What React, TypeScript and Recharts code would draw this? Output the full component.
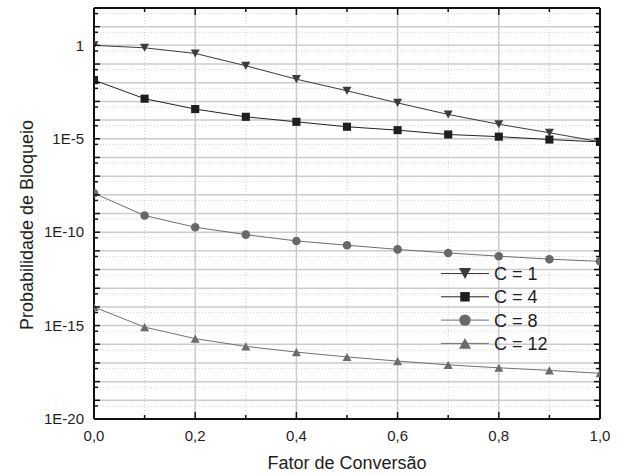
import React from 'react';
import { LineChart, Line, XAxis, YAxis, CartesianGrid } from 'recharts';

// ---- data ----
const conversionFactor = [0, 0.1, 0.2, 0.3, 0.4, 0.5, 0.6, 0.7, 0.8, 0.9, 1.0];
const blockingC1 = [1.0, 0.74, 0.37, 0.081, 0.0155, 3.7e-3, 8.3e-4, 2.0e-4, 6.0e-5, 2.1e-5, 6.9e-6];
const blockingC4 = [0.0138, 1.4e-3, 3.9e-4, 1.5e-4, 8.1e-5, 4.4e-5, 2.9e-5, 1.7e-5, 1.3e-5, 9.1e-6, 6.8e-6];
const blockingC8 = [1.2e-8, 7.8e-10, 1.85e-10, 7.4e-11, 3.4e-11, 2.0e-11, 1.2e-11, 7.7e-12, 5.2e-12, 3.6e-12, 2.75e-12];
const blockingC12 = [9.8e-15, 8.3e-16, 2.0e-16, 7.7e-17, 3.8e-17, 2.1e-17, 1.26e-17, 7.9e-18, 5.5e-18, 4.0e-18, 2.8e-18];

const seriesNames = ['C = 1', 'C = 4', 'C = 8', 'C = 12'];

const xTicks = [0, 0.1, 0.2, 0.3, 0.4, 0.5, 0.6, 0.7, 0.8, 0.9, 1.0];
const xLabelTicks = [0, 0.2, 0.4, 0.6, 0.8, 1.0];
const xMajorGrid = [0.2, 0.4, 0.6, 0.8];
const xMinorGrid = [0.1, 0.3, 0.5, 0.7, 0.9];

const yLabelValues = [1, 1e-5, 1e-10, 1e-15, 1e-20];
const yLabelTexts = ['1', '1E-5', '1E-10', '1E-15', '1E-20'];
const yDecades = Array.from({ length: 23 }, (_, i) => Number(`1e${i - 20}`));
const yHalves = Array.from({ length: 22 }, (_, i) => Number(`5e${i - 20}`));
const yTicks = [...yDecades, ...yHalves].sort((a, b) => a - b);

const xTitle = 'Fator de Conversão';
const yTitle = 'Probabilidade de Bloqueio';

const data = conversionFactor.map((x, i) => ({
  x,
  c1: blockingC1[i],
  c4: blockingC4[i],
  c8: blockingC8[i],
  c12: blockingC12[i],
}));

// ---- styles ----
const FONT = '"Liberation Sans", Arial, sans-serif';
const TEXT = '#1e1e1e';
const AXIS = '#111';

const isDecade = (v: number) => {
  const e = Math.log10(v);
  return Math.abs(e - Math.round(e)) < 1e-6;
};
const isXMajor = (v: number) => Math.abs(v * 5 - Math.round(v * 5)) < 1e-6;

const LeftTick = (props: any) => {
  const { x, y, payload } = props;
  const v = payload.value;
  const major = isDecade(v);
  const idx = yLabelValues.findIndex((l) => Math.abs(Math.log10(l) - Math.log10(v)) < 1e-6);
  return (
    <g>
      <line x1={x} x2={x + (major ? 6 : 4)} y1={y} y2={y} stroke={AXIS} strokeWidth={1.5} />
      {idx >= 0 && (
        <text x={x - 10} y={y + 5.3} textAnchor="end" fontSize={15} fontFamily={FONT} fill={TEXT}>
          {yLabelTexts[idx]}
        </text>
      )}
    </g>
  );
};

const RightTick = (props: any) => {
  const { x, y, payload } = props;
  const major = isDecade(payload.value);
  return <line x1={x} x2={x - (major ? 6 : 4)} y1={y} y2={y} stroke={AXIS} strokeWidth={1.5} />;
};

const BottomTick = (props: any) => {
  const { x, y, payload } = props;
  const v = payload.value;
  const major = isXMajor(v);
  const labelled = xLabelTicks.some((t) => Math.abs(t - v) < 1e-6);
  return (
    <g>
      <line x1={x} x2={x} y1={y} y2={y - (major ? 7 : 4)} stroke={AXIS} strokeWidth={1.5} />
      {labelled && (
        <text x={x} y={y + 22} textAnchor="middle" fontSize={15} fontFamily={FONT} fill={TEXT}>
          {v.toFixed(1).replace('.', ',')}
        </text>
      )}
    </g>
  );
};

const TopTick = (props: any) => {
  const { x, y, payload } = props;
  const major = isXMajor(payload.value);
  return <line x1={x} x2={x} y1={y} y2={y + (major ? 7 : 4)} stroke={AXIS} strokeWidth={1.5} />;
};

// ---- markers ----
type Shape = 'down' | 'square' | 'circle' | 'up';
const drawMarker = (shape: Shape, cx: number, cy: number, s: number, fill: string, key?: any) => {
  const h = s / 2;
  if (shape === 'down')
    return <polygon key={key} points={`${cx - h},${cy - h * 0.9} ${cx + h},${cy - h * 0.9} ${cx},${cy + h * 0.9}`} fill={fill} />;
  if (shape === 'up')
    return <polygon key={key} points={`${cx - h},${cy + h * 0.9} ${cx + h},${cy + h * 0.9} ${cx},${cy - h * 0.9}`} fill={fill} />;
  if (shape === 'square')
    return <rect key={key} x={cx - h * 0.9} y={cy - h * 0.9} width={s * 0.9} height={s * 0.9} fill={fill} />;
  return <circle key={key} cx={cx} cy={cy} r={h * 0.95} fill={fill} />;
};

const series = [
  { key: 'c1', shape: 'down' as Shape, line: '#3a3a3a', fill: '#3c3c3c' },
  { key: 'c4', shape: 'square' as Shape, line: '#222222', fill: '#1e1e1e' },
  { key: 'c8', shape: 'circle' as Shape, line: '#6e6e6e', fill: '#686868' },
  { key: 'c12', shape: 'up' as Shape, line: '#707070', fill: '#6c6c6c' },
];

const dotRenderer = (shape: Shape, fill: string) => (p: any) =>
  drawMarker(shape, p.cx, p.cy, 9, fill, `${shape}-${p.index}`);

export default function App() {
  return (
    <div style={{ position: 'absolute', left: 0, top: 0, width: 618, height: 475, background: '#fff' }}>
      <LineChart
        width={618}
        height={475}
        data={data}
        margin={{ top: 0, right: 0, bottom: 0, left: 0 }}
      >
        <CartesianGrid
          horizontalValues={yHalves}
          verticalValues={xMinorGrid}
          stroke="#d4d4d4"
          strokeWidth={1}
          strokeDasharray="1 2"
        />
        <CartesianGrid
          horizontalValues={yDecades}
          verticalValues={xMajorGrid}
          stroke="#cbcbcb"
          strokeWidth={1.5}
        />
        <XAxis
          dataKey="x"
          type="number"
          domain={[0, 1]}
          ticks={xTicks}
          allowDataOverflow
          height={56}
          tickSize={0}
          tickMargin={0}
          tickLine={false}
          tick={BottomTick}
          axisLine={{ stroke: AXIS, strokeWidth: 2 }}
          interval={0}
        />
        <XAxis
          xAxisId="top"
          orientation="top"
          dataKey="x"
          type="number"
          domain={[0, 1]}
          ticks={xTicks}
          allowDataOverflow
          height={8}
          tickSize={0}
          tickMargin={0}
          tickLine={false}
          tick={TopTick}
          axisLine={{ stroke: AXIS, strokeWidth: 2 }}
          interval={0}
        />
        <YAxis
          type="number"
          scale="log"
          domain={[1e-20, 100]}
          ticks={yTicks}
          allowDataOverflow
          width={94}
          tickSize={0}
          tickMargin={0}
          tickLine={false}
          tick={LeftTick}
          axisLine={{ stroke: AXIS, strokeWidth: 2 }}
          interval={0}
        />
        <YAxis
          yAxisId="right"
          orientation="right"
          type="number"
          scale="log"
          domain={[1e-20, 100]}
          ticks={yTicks}
          allowDataOverflow
          width={18}
          tickSize={0}
          tickMargin={0}
          tickLine={false}
          tick={RightTick}
          axisLine={{ stroke: AXIS, strokeWidth: 2 }}
          interval={0}
        />
        {series.map((s) => (
          <Line
            key={s.key}
            dataKey={s.key}
            type="linear"
            stroke={s.line}
            strokeWidth={1}
            dot={dotRenderer(s.shape, s.fill)}
            activeDot={false}
            isAnimationActive={false}
          />
        ))}
      </LineChart>
      <svg
        width={618}
        height={475}
        style={{ position: 'absolute', left: 0, top: 0, pointerEvents: 'none' }}
      >
        <text x={347} y={469} textAnchor="middle" fontSize={18} fontFamily={FONT} fill={TEXT}>
          {xTitle}
        </text>
        <text
          x={33}
          y={225}
          transform="rotate(-90 33 225)"
          textAnchor="middle"
          fontSize={18}
          fontFamily={FONT}
          fill={TEXT}
        >
          {yTitle}
        </text>
        {series.map((s, i) => {
          const cy = 273.5 + i * 23.3;
          return (
            <g key={s.key}>
              <line x1={441} x2={489} y1={cy} y2={cy} stroke={s.line} strokeWidth={1} />
              {drawMarker(s.shape, 465, cy, s.shape === 'square' ? 10.5 : 12, s.fill)}
              <text x={494} y={cy + 6.4} fontSize={18} fontFamily={FONT} fill={TEXT}>
                {seriesNames[i]}
              </text>
            </g>
          );
        })}
      </svg>
    </div>
  );
}
